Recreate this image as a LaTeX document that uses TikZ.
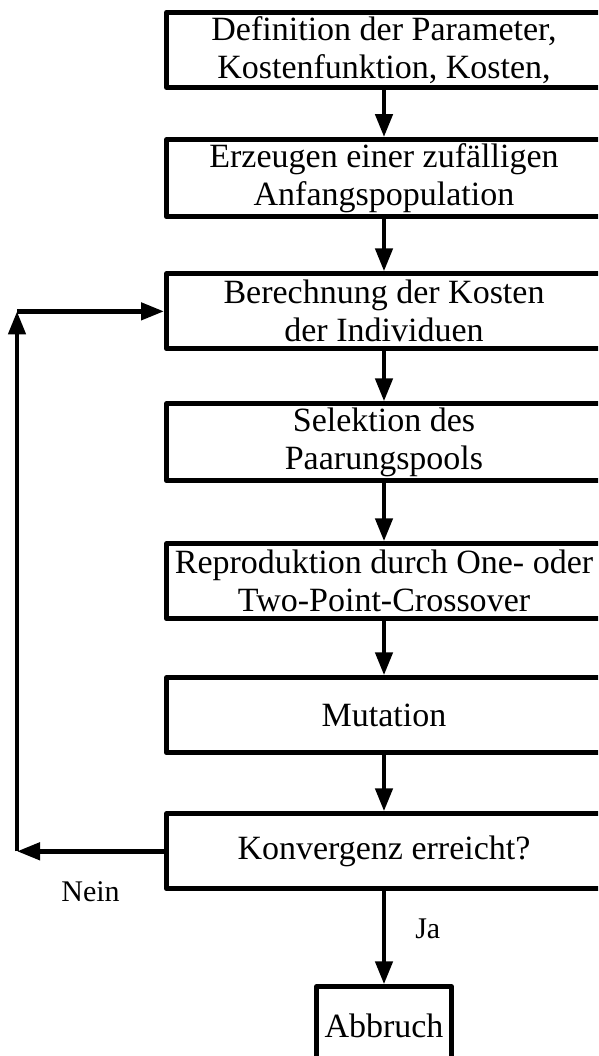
\documentclass[tikz,border=0pt]{standalone}
\usepackage{fontspec}
\setmainfont{Liberation Serif}
\usetikzlibrary{arrows.meta,positioning}

\begin{document}
\begin{tikzpicture}[x=1pt,y=-1pt,
  >={Triangle[length=23pt,width=17pt]},
  schritt/.style={
  % The shape:
  rectangle,
  % The size:
  minimum width=435pt,
  minimum height=75pt,
  inner sep=4pt,
  align=center,
  % The border:
  draw, line width=5pt, line join=round,
  % Font
  font=\fontsize{34}{38}\selectfont
  },
  pfeil/.style={->, line width=4.5pt},
  marke/.style={font=\fontsize{30}{34}\selectfont, inner sep=0pt}]
  \useasboundingbox (0,0) rectangle (598,1056);
  \clip (0,0) rectangle (598,1056);

  \node (Def) [schritt] at (384,50) {Definition der Parameter,\\ Kostenfunktion, Kosten,};
  \node (Init) [schritt,below=47pt of Def] {Erzeugen einer zufälligen\\ Anfangspopulation};
  \node (Kosten) [schritt,below=52pt of Init] {Berechnung der Kosten\\ der Individuen};
  \node (Sel) [schritt,below=50pt of Kosten] {Selektion des\\ Paarungspools};
  \node (Repro) [schritt,below=58pt of Sel] {Reproduktion durch One- oder\\ Two-Point-Crossover};
  \node (Mut) [schritt,below=54pt of Repro] {Mutation};
  \node (Konv) [schritt,below=56pt of Mut] {Konvergenz erreicht?};
  \node (Ende) [schritt,minimum width=135pt,minimum height=78pt,below=93pt of Konv] {Abbruch};

  \draw[pfeil] (Def) to (Init);
  \draw[pfeil] (Init) to (Kosten);
  \draw[pfeil] (Kosten) to (Sel);
  \draw[pfeil] (Sel) to (Repro);
  \draw[pfeil] (Repro) to (Mut);
  \draw[pfeil] (Mut) to (Konv);
  \draw[pfeil] (Konv) to node[marke,pos=0.4,right=29pt] {Ja} (Ende);

  % Rueckfuehrung
  \coordinate (linksU) at ([xshift=-147pt]Konv.west);
  \coordinate (linksO) at ([xshift=-147pt]Kosten.west);
  \draw[pfeil] (Konv.west) to node[marke,midway,below=28pt] {Nein} (linksU);
  \draw[pfeil] (linksU) to (linksO);
  \draw[pfeil] (linksO) to (Kosten.west);
\end{tikzpicture}
\end{document}
